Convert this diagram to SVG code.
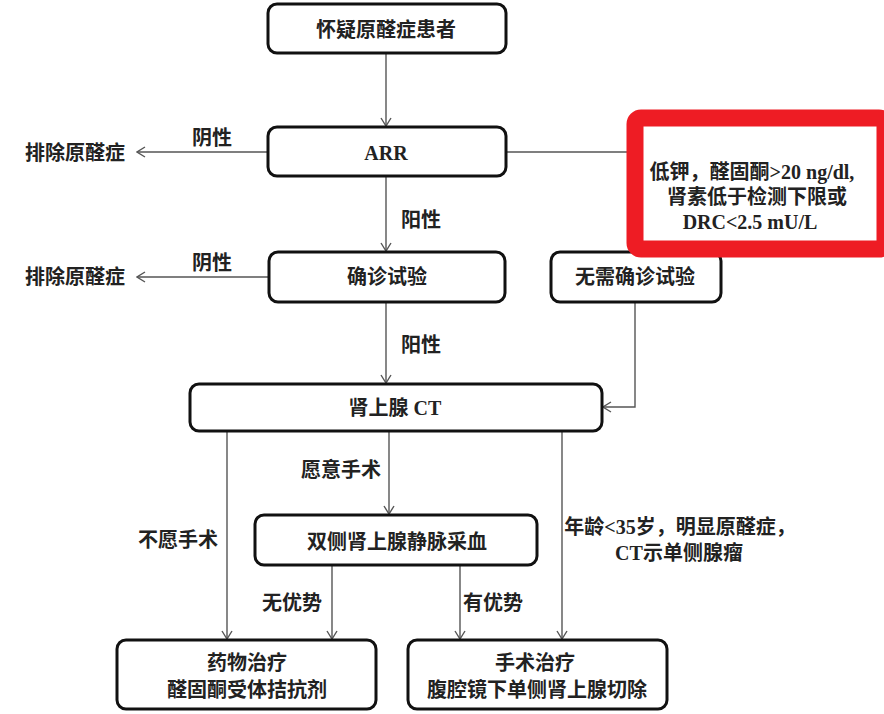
<svg xmlns="http://www.w3.org/2000/svg" width="884" height="714" viewBox="0 0 884 714">
<style>
.box{fill:#fff;stroke:#111;stroke-width:3}
.ln{fill:none;stroke:#555;stroke-width:1.4}
text{font-family:"Liberation Serif","Noto Sans CJK SC",serif;font-size:20px;font-weight:bold;fill:#222;text-anchor:middle;dominant-baseline:central}
</style>
<defs>
<marker id="ah" markerWidth="10" markerHeight="12" refX="9" refY="6" orient="auto" markerUnits="userSpaceOnUse">
<path d="M1,1 L9,6 L1,11" fill="none" stroke="#555" stroke-width="1.4"/>
</marker>
</defs>
<rect width="884" height="714" fill="#fff"/>
<g id="connectors">
<line class="ln" x1="386" y1="53" x2="386" y2="126" marker-end="url(#ah)"/>
<line class="ln" x1="268" y1="152" x2="137" y2="152" marker-end="url(#ah)"/>
<line class="ln" x1="506" y1="152" x2="630" y2="152"/>
<line class="ln" x1="386" y1="176" x2="386" y2="251" marker-end="url(#ah)"/>
<line class="ln" x1="269" y1="277" x2="137" y2="277" marker-end="url(#ah)"/>
<line class="ln" x1="386" y1="302" x2="386" y2="383" marker-end="url(#ah)"/>
<polyline class="ln" points="635,302 635,407 603,407" marker-end="url(#ah)"/>
<line class="ln" x1="227" y1="431" x2="227" y2="639" marker-end="url(#ah)"/>
<line class="ln" x1="389" y1="431" x2="389" y2="514" marker-end="url(#ah)"/>
<line class="ln" x1="562" y1="431" x2="562" y2="639" marker-end="url(#ah)"/>
<line class="ln" x1="332" y1="565" x2="332" y2="639" marker-end="url(#ah)"/>
<line class="ln" x1="460" y1="565" x2="460" y2="639" marker-end="url(#ah)"/>
<text x="75" y="153">排除原醛症</text>
<text x="212" y="138">阴性</text>
<text x="421" y="220">阳性</text>
<text x="75" y="277">排除原醛症</text>
<text x="212" y="263">阴性</text>
<text x="421" y="345">阳性</text>
<text x="341" y="470">愿意手术</text>
<text x="178" y="540">不愿手术</text>
<text x="292" y="603">无优势</text>
<text x="493" y="603">有优势</text>
<text x="680" y="527">年龄&lt;35岁，明显原醛症，</text>
<text x="679" y="553">CT示单侧腺瘤</text>
</g>
<g id="n1"><rect class="box" x="268" y="4" width="238" height="49" rx="9"/><text x="386" y="30">怀疑原醛症患者</text></g>
<g id="n2"><rect class="box" x="268" y="127" width="238" height="49" rx="9"/><text x="386" y="153">ARR</text></g>
<g id="n3"><rect class="box" x="269" y="252" width="236" height="50" rx="9"/><text x="387" y="277">确诊试验</text></g>
<g id="n4"><rect class="box" x="551" y="252" width="170" height="50" rx="9"/><text x="635" y="277">无需确诊试验</text></g>
<g id="n5"><rect class="box" x="190" y="384" width="412" height="47" rx="9"/><text x="395" y="408">肾上腺 CT</text></g>
<g id="n6"><rect class="box" x="255" y="515" width="282" height="50" rx="9"/><text x="397" y="542">双侧肾上腺静脉采血</text></g>
<g id="n7"><rect class="box" x="117" y="640" width="259" height="69" rx="9"/><text x="247" y="663">药物治疗</text><text x="247" y="690">醛固酮受体拮抗剂</text></g>
<g id="n8"><rect class="box" x="408" y="640" width="259" height="69" rx="9"/><text x="535" y="663">手术治疗</text><text x="537" y="690">腹腔镜下单侧肾上腺切除</text></g>
<g id="n9"><rect x="635" y="118" width="250" height="131" rx="6" fill="#fff" stroke="#ee1c24" stroke-width="17"/>
<text x="752" y="172">低钾，醛固酮&gt;20 ng/dl,</text>
<text x="757" y="197">肾素低于检测下限或</text>
<text x="750" y="222">DRC&lt;2.5 mU/L</text></g>
</svg>
